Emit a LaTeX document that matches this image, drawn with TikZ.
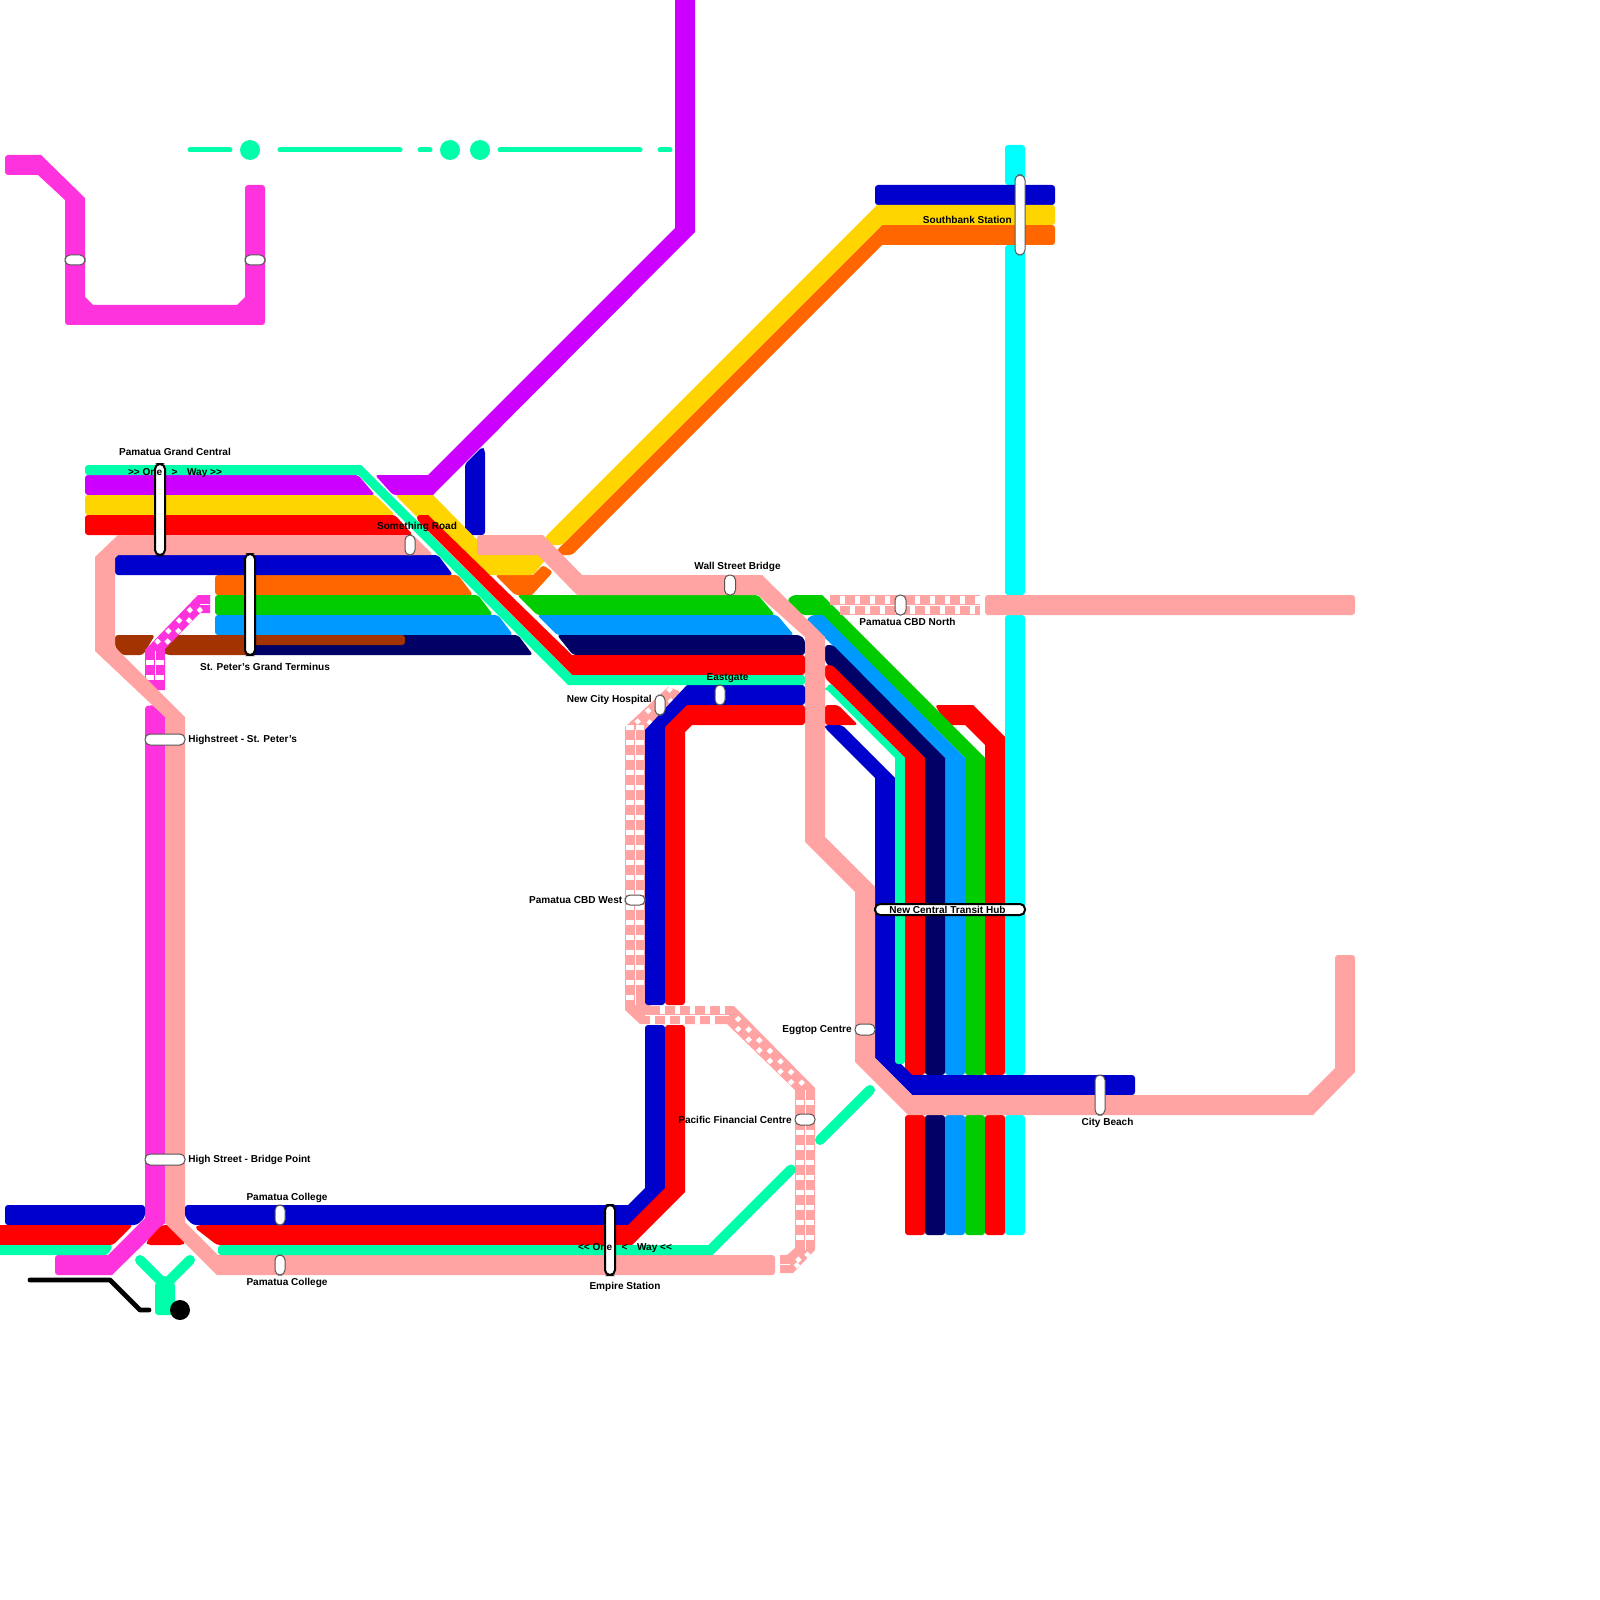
\documentclass[tikz,border=0pt]{standalone}
\usepackage{fontspec}
\setmainfont{Liberation Sans}
\usetikzlibrary{positioning}
\definecolor{linered}{HTML}{FF0000}
\definecolor{lineblue}{HTML}{0000CC}
\definecolor{linenavy}{HTML}{000066}
\definecolor{linesky}{HTML}{0099FF}
\definecolor{linegreen}{HTML}{00CC00}
\definecolor{lineorange}{HTML}{FF6600}
\definecolor{lineyellow}{HTML}{FFD500}
\definecolor{linepurple}{HTML}{CC00FF}
\definecolor{linemint}{HTML}{00FFAA}
\definecolor{linepink}{HTML}{FF33DD}
\definecolor{linesalmon}{HTML}{FFA3A3}
\definecolor{linecyan}{HTML}{00FFFF}
\definecolor{linebrown}{HTML}{A33300}
\definecolor{stngray}{HTML}{555555}
\tikzset{
  seg/.style={rounded corners=.75mm},
  crisp/.style={sharp corners},
  rail/.style={white, line width=1.875mm, dash pattern=on 1.125mm off 2.625mm},
  railx/.style={white, line width=1.15mm, dash pattern=on 1.125mm off 2.625mm},
  railmid/.style={white, line width=.25mm},
  thin mint/.style={linemint, line width=1.25mm, line cap=round},
  stn/.style 2 args={draw=stngray, fill=white, line width=.25mm, rounded corners=1.25mm, inner sep=0pt, minimum width=#1*.25mm, minimum height=#2*.25mm},
  hub/.style 2 args={stn={#1}{#2}, draw=black, line width=.5mm},
  lbl/.style={font=\fontsize{7.15}{9}\selectfont\bfseries, inner sep=0pt, yshift=-.3mm}
}
\begin{document}
\begin{tikzpicture}[x=.25mm,y=-.25mm]
\useasboundingbox (0,0) rectangle (1600,1600);
% top row
\draw[thin mint] (190,150) -- (230,150);
\draw[thin mint] (280,150) -- (400,150);
\draw[thin mint] (420,150) -- (430,150);
\draw[thin mint] (500,150) -- (640,150);
\draw[thin mint] (660,150) -- (670,150);
\fill[linemint] (250,150) circle (2.5mm);
\fill[linemint] (450,150) circle (2.5mm);
\fill[linemint] (480,150) circle (2.5mm);
\fill[seg,linepink] (5,155) [crisp] -- (41,155) -- (85,198) -- (85,297) -- (93,305) -- (237,305) -- (245,297) [seg] -- (245,185) -- (265,185) -- (265,325) -- (65,325) [crisp] -- (65,200) -- (38,175) [seg] -- (5,175) -- cycle;
% cyan
\fill[seg,linecyan] (1005,145) rectangle (1025,185);
\fill[seg,linecyan] (1005,245) rectangle (1025,595);
\fill[seg,linecyan] (1005,615) rectangle (1025,1075);
\fill[seg,linecyan] (1005,1115) rectangle (1025,1235);
% purple
\fill[seg,lineblue] (465,464) -- (482,447) -- (485,450) -- (485,535) -- (465,535) -- cycle;
\fill[seg,linepurple] (85,475) -- (358,475) -- (375,495) -- (85,495) -- cycle;
\fill[seg,linepurple] (375,475) [crisp] -- (428,475) -- (675,228) [seg] -- (675,-20) -- (695,-20) [crisp] -- (695,232) -- (433,495) [seg] -- (393,495) -- cycle;
% blue top, yellow, orange
\fill[seg,lineblue] (875,185) rectangle (1055,205);
\fill[seg,lineorange] (215,575) -- (458,575) -- (473,595) -- (215,595) -- cycle;
\fill[seg,lineorange] (495,575) [crisp] -- (533,575) [seg] -- (543,565) -- (553,572) [crisp] -- (532,595) [seg] -- (515,595) -- cycle;
\fill[seg,lineorange] (557,550) [crisp] -- (882,225) [seg] -- (1055,225) -- (1055,245) [crisp] -- (882,245) [seg] -- (572,555) -- (557,555) -- cycle;
\fill[seg,lineyellow] (85,495) -- (375,495) -- (395,515) -- (85,515) -- cycle;
\fill[seg,lineyellow] (395,495) [crisp] -- (433,495) -- (492,555) [seg] -- (543,555) -- (546,559) -- (533,575) -- (487,575) -- (415,515) -- cycle;
\fill[seg,lineyellow] (545,537) [crisp] -- (877,205) [seg] -- (1055,205) -- (1055,225) [crisp] -- (882,225) [seg] -- (562,545) -- (548,545) -- cycle;
% rows
\fill[seg,lineblue] (115,555) -- (438,555) -- (453,575) -- (115,575) -- cycle;
\fill[seg,linered] (85,515) -- (395,515) -- (413,535) -- (85,535) -- cycle;
\fill[seg,linegreen] (215,595) -- (478,595) -- (493,615) -- (215,615) -- cycle;
\fill[seg,linegreen] (517,595) -- (758,595) -- (775,615) -- (537,615) -- cycle;
\fill[seg,linesky] (215,615) -- (498,615) -- (513,635) -- (215,635) -- cycle;
\fill[seg,linesky] (537,615) -- (777,615) -- (794,635) -- (557,635) -- cycle;
\fill[seg,linenavy] (250,635) -- (518,635) -- (533,655) -- (250,655) -- cycle;
\fill[seg,linenavy] (557,635) -- (800,635) -- (805,640) -- (805,655) -- (573,655) -- cycle;
\fill[seg,linebrown] (115,635) -- (155,635) -- (143,655) -- (122,655) -- (115,647) -- cycle;
\fill[seg,linebrown] (173,635) -- (405,635) -- (405,645) -- (250,645) -- (250,655) -- (167,655) -- (163,652) -- cycle;
% east bundle
\fill[seg,linered] (935,705) [crisp] -- (973,705) -- (1005,737) [seg] -- (1005,1075) -- (985,1075) [crisp] -- (985,745) -- (965,725) [seg] -- (947,725) -- cycle;
\fill[seg,linegreen] (787,600) -- (793,595) [crisp] -- (822,595) -- (985,758) [seg] -- (985,1075) -- (965,1075) [crisp] -- (965,758) -- (822,615) [seg] -- (802,615) -- cycle;
\fill[seg,linesky] (806,620) -- (812,615) [crisp] -- (823,615) -- (965,758) [seg] -- (965,1075) -- (945,1075) [crisp] -- (945,758) [seg] -- (825,638) -- cycle;
\fill[seg,linenavy] (825,645) -- (833,645) [crisp] -- (945,758) [seg] -- (945,1075) -- (925,1075) [crisp] -- (925,758) [seg] -- (825,662) -- cycle;
\fill[seg,linered] (825,665) -- (832,665) [crisp] -- (925,758) [seg] -- (925,1075) -- (905,1075) [crisp] -- (905,758) [seg] -- (825,678) -- cycle;
\fill[seg,linered] (825,705) -- (838,705) -- (858,725) -- (825,725) -- cycle;
\fill[seg,lineblue] (825,725) -- (842,725) [crisp] -- (895,778) -- (895,1058) -- (912,1075) [seg] -- (1135,1075) -- (1135,1095) [crisp] -- (912,1095) -- (875,1058) -- (875,778) [seg] -- (825,728) -- cycle;
\fill[seg,linemint] (825,690) -- (830,683) [crisp] -- (905,758) [seg] -- (905,1064) -- (895,1064) [crisp] -- (895,758) [seg] -- (825,688) -- cycle;
% columns below
\fill[seg,linered] (905,1115) rectangle (925,1235);
\fill[seg,linenavy] (925,1115) rectangle (945,1235);
\fill[seg,linesky] (945,1115) rectangle (965,1235);
\fill[seg,linegreen] (965,1115) rectangle (985,1235);
\fill[seg,linered] (985,1115) rectangle (1005,1235);
% west side
\fill[seg,linepink] (55,1255) [crisp] -- (108,1255) -- (145,1218) [seg] -- (145,706) -- (155,705) -- (165,710) [crisp] -- (165,1223) -- (112,1275) [seg] -- (55,1275) -- cycle;
\fill[seg,lineblue] (5,1205) -- (145,1205) -- (145,1217) -- (137,1225) -- (5,1225) -- cycle;
\fill[seg,linered] (-10,1225) -- (133,1225) -- (113,1245) -- (-10,1245) -- cycle;
\fill[seg,linemint] (-10,1245) -- (113,1245) -- (108,1255) -- (-10,1255) -- cycle;
\fill[seg,linered] (162,1225) -- (173,1225) -- (185,1242) -- (183,1245) -- (148,1245) -- (146,1242) -- cycle;
% pink track
\fill[linepink] (145,650) -- (198,595) -- (210,595) -- (210,613) -- (200,613) -- (165,649) -- (165,690) -- (145,690) -- cycle;
\draw[railmid] (155,680) -- (155,651);
\draw[railmid] (200,604) -- (210,604);
\draw[rail] (150,660) -- (150,690);
\draw[rail] (160,660) -- (160,690);
\draw[railx] (156,643) -- (194,606);
\draw[railx] (166,643) -- (202,608);
% salmon
\fill[seg,linesalmon] (413,535) -- (433,555) [crisp] -- (118,555) -- (115,558) -- (115,647) -- (185,717) -- (185,1222) -- (218,1255) [seg] -- (775,1255) -- (775,1275) [crisp] -- (217,1275) -- (165,1223) -- (165,717) -- (95,651) -- (95,557) -- (118,535) [seg] -- cycle;
\fill[seg,linesalmon] (477,535) [crisp] -- (543,535) -- (582,575) -- (762,575) -- (825,637) -- (825,837) -- (875,887) -- (875,1058) -- (912,1095) -- (1308,1095) -- (1335,1068) [seg] -- (1335,955) -- (1355,955) [crisp] -- (1355,1072) -- (1313,1115) -- (908,1115) -- (855,1062) -- (855,892) -- (805,842) -- (805,637) -- (758,595) -- (577,595) -- (538,555) [seg] -- (477,555) -- cycle;
\fill[seg,linesalmon] (985,595) rectangle (1355,615);
% salmon track
\fill[linesalmon] (830,595) rectangle (980,604.5);
\fill[linesalmon] (840,605.5) rectangle (980,615);
\draw[rail] (840,600) -- (980,600);
\draw[rail] (850,610) -- (975,610);
\fill[linesalmon] (668,687) -- (682,692) -- (645,730) -- (645,1000) -- (651,1006) -- (734,1006) -- (815,1088) -- (815,1250) -- (793,1273) -- (780,1273) -- (780,1255) -- (787,1255) -- (795,1248) -- (795,1090) -- (727,1024) -- (640,1024) -- (625,1010) -- (625,727) -- cycle;
\draw[railmid] (635,730) -- (635,1005);
\draw[railmid] (645,1015) -- (729,1015);
\draw[railmid] (805,1090) -- (805,1250);
\draw[railmid] (790,1264) -- (780,1264);
\draw[rail] (630,725) -- (630,1000);
\draw[rail] (640,725) -- (640,995);
\draw[railx] (636,723) -- (676,683);
\draw[railx] (648,724) -- (682,690);
\draw[rail] (650,1020) -- (725,1020);
\draw[rail] (660,1010) -- (728,1010);
\draw[railx] (736.5,1017.5) -- (805,1086);
\draw[railx] (736.5,1027.5) -- (795,1086);
\draw[rail] (800,1100) -- (800,1245);
\draw[rail] (810,1100) -- (810,1245);
\draw[railx] (809,1253) -- (795,1267);
\draw[railx] (800,1258) -- (790,1268);
% central lines
\fill[seg,lineblue] (805,685) -- (805,705) [crisp] -- (700,705) -- (665,740) [seg] -- (665,1005) -- (645,1005) [crisp] -- (645,730) -- (687,685) [seg] -- cycle;
\fill[seg,linered] (805,705) -- (805,725) [crisp] -- (692,725) -- (685,732) [seg] -- (685,1005) -- (665,1005) [crisp] -- (665,727) -- (687,705) [seg] -- cycle;
\fill[seg,lineblue] (185,1205) [crisp] -- (628,1205) -- (645,1188) [seg] -- (645,1025) -- (665,1025) [crisp] -- (665,1190) -- (630,1225) [seg] -- (193,1225) -- (185,1217) -- cycle;
\fill[seg,linered] (198,1225) [crisp] -- (628,1225) -- (665,1188) [seg] -- (665,1025) -- (685,1025) [crisp] -- (685,1192) -- (632,1245) [seg] -- (217,1245) -- (195,1228) -- cycle;
% mint
\fill[seg,linered] (417,515) [crisp] -- (428,515) -- (572,655) [seg] -- (805,655) -- (805,675) [crisp] -- (572,675) [seg] -- (417,520) -- cycle;
\fill[seg,linemint] (85,465) [crisp] -- (361,465) -- (572,675) [seg] -- (805,675) -- (805,685) [crisp] -- (568,685) -- (358,475) [seg] -- (85,475) -- cycle;
\fill[seg,linemint] (218,1245) [crisp] -- (708,1245) -- (713,1255) [seg] -- (218,1255) -- cycle;
\draw[thin mint, line width=2.5mm] (710.5,1250) -- (791,1169.5);
\draw[thin mint, line width=2.5mm] (820,1140) -- (870,1090);
% junction
\draw[thin mint, line width=2.5mm] (140,1260) -- (165,1285) -- (190,1260);
\fill[seg,linemint] (155,1283) -- (165,1275) -- (175,1283) -- (175,1315) -- (155,1315) -- cycle;
\draw[black, line width=1.2mm, line cap=round, line join=round] (30,1280) -- (110,1280) -- (140,1310) -- (149,1310);
\fill[black] (180,1310) circle (2.5mm);
% stations
\node[stn={20}{10}] (westa) at (75,260) {};
\node[stn={20}{10}] (westb) at (255,260) {};
\node[hub={10}{91}] (grandcentral) at (160,509.5) {};
\node[stn={10}{20}] (something) at (410,545) {};
\node[hub={10}{101}] (terminus) at (250,604.5) {};
\node[stn={40}{11}] (highstreet) at (165,739.5) {};
\node[stn={11}{20}] (wallstreet) at (730,585) {};
\node[stn={11}{20}] (cbdnorth) at (900.5,605) {};
\node[stn={10}{20}] (eastgate) at (720,695) {};
\node[stn={10}{20}] (hospital) at (660,705) {};
\node[stn={20}{10}] (cbdwest) at (635,900) {};
\node[stn={20}{11}] (eggtop) at (865,1029.5) {};
\node[stn={20}{11}] (pacific) at (805,1119.5) {};
\node[hub={150}{11}] (transithub) at (950,909.5) {};
\node[stn={10}{40}] (citybeach) at (1100,1095) {};
\node[stn={10}{80}] (southbank) at (1020,215) {};
\node[stn={40}{11}] (bridgepoint) at (165,1159.5) {};
\node[stn={10}{20}] (collegea) at (280,1215) {};
\node[stn={10}{20}] (collegeb) at (280,1265) {};
\node[hub={10}{70}] (empire) at (610,1240) {};
% labels
\node[lbl] (grandcentrallbl) at (175,451) {Pamatua Grand Central};
\node[lbl] (oneway) at (175,472) {>{}> One\hspace{.95em}>\hspace{.95em}Way >{}>};
\node[lbl] (somethinglbl) at (417,526) {Something Road};
\node[lbl] (terminuslbl) at (265,666) {St. Peter's Grand Terminus};
\node[lbl,anchor=west] (highstreetlbl) at (188,739) {Highstreet - St. Peter's};
\node[lbl] (wallstreetlbl) at (737.5,566) {Wall Street Bridge};
\node[lbl] (cbdnorthlbl) at (907.5,621) {Pamatua CBD North};
\node[lbl] (eastgatelbl) at (727.5,677) {Eastgate};
\node[lbl,anchor=east] (hospitallbl) at (652,699) {New City Hospital};
\node[lbl,anchor=east] (cbdwestlbl) at (622.5,899) {Pamatua CBD West};
\node[lbl,anchor=east] (eggtoplbl) at (852,1029) {Eggtop Centre};
\node[lbl,anchor=east] (pacificlbl) at (792,1119) {Pacific Financial Centre};
\node[lbl] (transithublbl) at (947.5,909) {New Central Transit Hub};
\node[lbl] (citybeachlbl) at (1107.5,1122) {City Beach};
\node[lbl,anchor=east] (southbanklbl) at (1012,219) {Southbank Station};
\node[lbl,anchor=west] (bridgepointlbl) at (188,1159) {High Street - Bridge Point};
\node[lbl] (collegealbl) at (287,1197) {Pamatua College};
\node[lbl] (collegeblbl) at (287,1282) {Pamatua College};
\node[lbl] (empirelbl) at (625,1286) {Empire Station};
\node[lbl] (wayback) at (625,1247) {<{}< One\hspace{.95em}<\hspace{.95em}Way <{}<};
\end{tikzpicture}
\end{document}
